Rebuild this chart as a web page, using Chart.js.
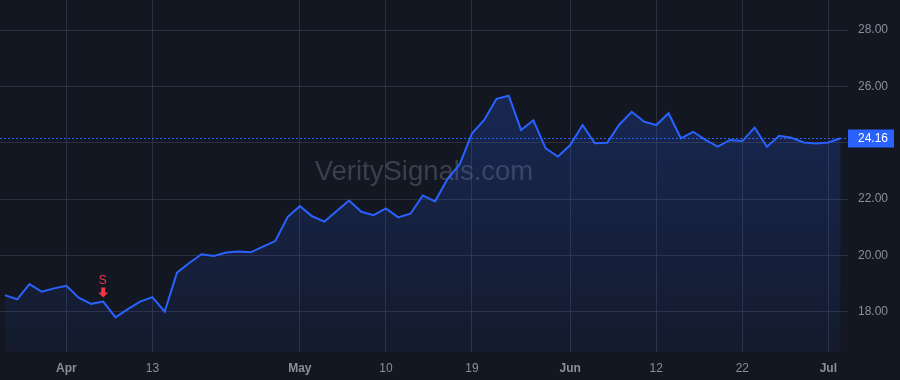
<!DOCTYPE html>
<html>
<head>
<meta charset="utf-8">
<script src="https://cdn.jsdelivr.net/npm/chart.js@4/dist/chart.umd.min.js"></script>
<style>
  html, body { margin: 0; padding: 0; background: #131722; }
  #wrap { width: 900px; height: 380px; position: relative; }
</style>
</head>
<body>
<div id="wrap"><canvas id="priceChart"></canvas></div>
<script>
// trading days (2023)
const dates = [
  '2023-03-27', '2023-03-28', '2023-03-29', '2023-03-30', '2023-03-31',
  '2023-04-03', '2023-04-04', '2023-04-05', '2023-04-06',
  '2023-04-10', '2023-04-11', '2023-04-12', '2023-04-13', '2023-04-14',
  '2023-04-17', '2023-04-18', '2023-04-19', '2023-04-20', '2023-04-21',
  '2023-04-24', '2023-04-25', '2023-04-26', '2023-04-27', '2023-04-28',
  '2023-05-01', '2023-05-02', '2023-05-03', '2023-05-04', '2023-05-05',
  '2023-05-08', '2023-05-09', '2023-05-10', '2023-05-11', '2023-05-12',
  '2023-05-15', '2023-05-16', '2023-05-17', '2023-05-18', '2023-05-19',
  '2023-05-22', '2023-05-23', '2023-05-24', '2023-05-25', '2023-05-26',
  '2023-05-30', '2023-05-31', '2023-06-01', '2023-06-02',
  '2023-06-05', '2023-06-06', '2023-06-07', '2023-06-08', '2023-06-09',
  '2023-06-12', '2023-06-13', '2023-06-14', '2023-06-15', '2023-06-16',
  '2023-06-20', '2023-06-21', '2023-06-22', '2023-06-23',
  '2023-06-26', '2023-06-27', '2023-06-28', '2023-06-29', '2023-06-30',
  '2023-07-03', '2023-07-05'
];

// close prices
const closes = [
  18.59, 18.44, 18.98, 18.71, 18.83,
  18.92, 18.50, 18.28, 18.36,
  17.80, 18.09, 18.36, 18.52, 18.00,
  19.39, 19.73, 20.04, 19.98, 20.10,
  20.14, 20.11, 20.31, 20.51, 21.36,
  21.75, 21.39, 21.20, 21.58, 21.95,
  21.55, 21.43, 21.67, 21.35, 21.48,
  22.13, 21.92, 22.70, 23.23, 24.33,
  24.81, 25.56, 25.67, 24.45, 24.80,
  23.80, 23.51, 23.92, 24.63,
  23.98, 24.00, 24.65, 25.10, 24.75,
  24.63, 25.05, 24.16, 24.39, 24.10,
  23.86, 24.10, 24.06, 24.54,
  23.86, 24.25, 24.18, 24.01, 23.97,
  24.01, 24.16
];

const tickDates = ['2023-04-03', '2023-04-13', '2023-05-01', '2023-05-10', '2023-05-19', '2023-06-01', '2023-06-12', '2023-06-22', '2023-07-03'];
const tickLabels = ['Apr', '13', 'May', '10', '19', 'Jun', '12', '22', 'Jul'];
const monthLabels = ['Apr', 'May', 'Jun', 'Jul'];

const priceTicks = [18, 20, 22, 24, 26, 28];
const lastPrice = 24.16;

const signals = [{ date: '2023-04-06', label: 'S' }];

const FONT = '"Liberation Sans", Arial, sans-serif';
const BG = '#131722';
const BLUE = '#2962ff';
const GRID = 'rgba(54, 58, 72, 0.75)';
const TEXT = '#8b8f9a';

const points = closes.map((c, i) => ({ x: i, y: c }));

// background + watermark + price line + signal marks
const overlay = {
  id: 'overlay',
  beforeDraw(chart) {
    const { ctx, width, height } = chart;
    ctx.save();
    ctx.fillStyle = BG;
    ctx.fillRect(0, 0, width, height);
    ctx.restore();
  },
  beforeDatasetsDraw(chart) {
    const { ctx, chartArea } = chart;
    ctx.save();
    ctx.font = '27.5px ' + FONT;
    ctx.fillStyle = 'rgba(120, 124, 138, 0.4)';
    ctx.textAlign = 'center';
    ctx.textBaseline = 'middle';
    ctx.fillText('VeritySignals.com', (chartArea.left + chartArea.right) / 2, 172);
    ctx.restore();
  },
  afterDatasetsDraw(chart) {
    const { ctx, chartArea, scales } = chart;
    const y = Math.round(scales.y.getPixelForValue(lastPrice)) + 0.5;

    ctx.save();
    ctx.strokeStyle = BLUE;
    ctx.lineWidth = 1;
    ctx.setLineDash([2, 2]);
    ctx.beginPath();
    ctx.moveTo(chartArea.left, y);
    ctx.lineTo(chartArea.right, y);
    ctx.stroke();
    ctx.setLineDash([]);

    // price tag on the axis
    ctx.fillStyle = BLUE;
    ctx.fillRect(chartArea.right, y - 9, 46, 18);
    ctx.fillStyle = '#ffffff';
    ctx.font = '12px ' + FONT;
    ctx.textAlign = 'left';
    ctx.textBaseline = 'middle';
    ctx.fillText(lastPrice.toFixed(2), chartArea.right + 10, y + 0.5);

    // sell signals
    signals.forEach(s => {
      const i = dates.indexOf(s.date);
      const px = scales.x.getPixelForValue(i);
      const py = scales.y.getPixelForValue(closes[i]);
      ctx.fillStyle = '#f23645';
      ctx.beginPath();
      ctx.rect(px - 2, py - 14, 4, 5);
      ctx.moveTo(px - 5, py - 9);
      ctx.lineTo(px + 5, py - 9);
      ctx.lineTo(px, py - 4);
      ctx.closePath();
      ctx.fill();
      ctx.font = '12px ' + FONT;
      ctx.textAlign = 'center';
      ctx.textBaseline = 'alphabetic';
      ctx.fillText(s.label, px - 0.5, py - 18);
    });
    ctx.restore();
  }
};

new Chart(document.getElementById('priceChart'), {
  type: 'line',
  data: {
    datasets: [{
      data: points,
      borderColor: BLUE,
      borderWidth: 2,
      pointRadius: 0,
      tension: 0,
      fill: 'start',
      backgroundColor: (ctx) => {
        const area = ctx.chart.chartArea;
        if (!area) return 'rgba(41, 98, 255, 0.15)';
        const g = ctx.chart.ctx.createLinearGradient(0, area.top, 0, area.bottom);
        g.addColorStop(0, 'rgba(41, 98, 255, 0.28)');
        g.addColorStop(1, 'rgba(41, 98, 255, 0.05)');
        return g;
      }
    }]
  },
  options: {
    responsive: true,
    maintainAspectRatio: false,
    animation: false,
    layout: { padding: 0 },
    plugins: {
      legend: { display: false },
      tooltip: { enabled: false }
    },
    scales: {
      x: {
        type: 'linear',
        min: -0.4,
        max: 68.6,
        afterBuildTicks: (scale) => {
          scale.ticks = tickDates.map(d => ({ value: dates.indexOf(d) }));
        },
        afterFit: (scale) => {
          scale.height = 28;
          scale.paddingLeft = 0;
          scale.paddingRight = 0;
        },
        grid: { color: GRID, drawTicks: false },
        border: { display: false },
        ticks: {
          autoSkip: false,
          maxRotation: 0,
          padding: 9,
          color: TEXT,
          font: (ctx) => {
            const lbl = ctx.tick ? tickLabels[tickDates.indexOf(dates[ctx.tick.value])] : '';
            return { family: FONT, size: 12, weight: monthLabels.includes(lbl) ? 'bold' : 'normal' };
          },
          callback: (v) => tickLabels[tickDates.indexOf(dates[v])]
        }
      },
      y: {
        position: 'right',
        min: 16.57,
        max: 29.07,
        afterBuildTicks: (scale) => {
          scale.ticks = priceTicks.map(v => ({ value: v }));
        },
        afterFit: (scale) => {
          scale.width = 52;
          scale.paddingTop = 0;
          scale.paddingBottom = 0;
        },
        grid: { color: GRID, drawTicks: false },
        border: { display: false },
        ticks: {
          padding: 10,
          color: TEXT,
          font: { family: FONT, size: 12 },
          callback: (v) => v.toFixed(2)
        }
      }
    }
  },
  plugins: [overlay]
});
</script>
</body>
</html>
